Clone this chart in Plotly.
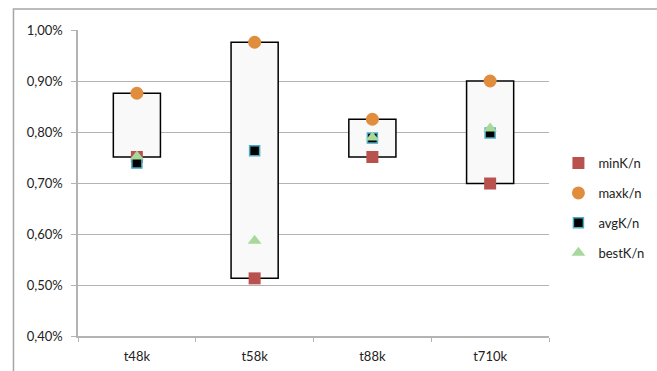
import plotly.graph_objects as go

# K/n ratios (in percent) per test set
categories = ["t48k", "t58k", "t88k", "t710k"]
min_kn = [0.751, 0.513, 0.751, 0.699]
max_kn = [0.876, 0.976, 0.825, 0.900]
avg_kn = [0.739, 0.763, 0.788, 0.798]
best_kn = [0.752, 0.587, 0.789, 0.807]
y_ticks = [0.40, 0.50, 0.60, 0.70, 0.80, 0.90, 1.00]
y_tick_text = [f"{v:.2f}%".replace(".", ",") for v in y_ticks]

font_family = "Lato, 'Open Sans', sans-serif"
text_color = "#222222"
grid_color = "#b3b3b3"

fig = go.Figure()

# min–max range boxes
fig.add_trace(go.Bar(
    x=categories,
    base=min_kn,
    y=[hi - lo for hi, lo in zip(max_kn, min_kn)],
    width=0.4,
    marker=dict(color="#f9f9f9", line=dict(color="#000000", width=1.5)),
    showlegend=False,
    hoverinfo="skip",
))

fig.add_trace(go.Scatter(
    x=categories, y=min_kn, mode="markers", name="minK/n",
    legendgroup="a",
    marker=dict(symbol="square", size=12, color="#b9514e",
                line=dict(color="#b9514e", width=0)),
))
fig.add_trace(go.Scatter(
    x=categories, y=max_kn, mode="markers", name="maxk/n",
    legendgroup="b",
    marker=dict(symbol="circle", size=13, color="#e08e3e",
                line=dict(color="#e08e3e", width=0)),
))
fig.add_trace(go.Scatter(
    x=categories, y=avg_kn, mode="markers", name="avgK/n",
    legendgroup="c",
    marker=dict(symbol="square", size=10, color="#000000",
                line=dict(color="#4bacc6", width=1.5)),
))
fig.add_trace(go.Scatter(
    x=categories, y=best_kn, mode="markers", name="bestK/n",
    legendgroup="d",
    marker=dict(symbol="triangle-up", size=12, color="#a8d99c",
                line=dict(color="#a8d99c", width=0)),
))

fig.update_layout(
    width=657, height=371,
    margin=dict(l=78, r=108, t=30, b=35, autoexpand=False),
    paper_bgcolor="white",
    plot_bgcolor="white",
    font=dict(family=font_family, size=13, color=text_color),
    showlegend=True,
    legend=dict(
        x=1.02, xanchor="left", y=0.418, yanchor="middle",
        font=dict(size=13, color=text_color),
        tracegroupgap=10,
        itemsizing="trace",
        bgcolor="rgba(0,0,0,0)",
    ),
    shapes=[
        dict(type="rect", xref="paper", yref="paper",
             x0=-0.137, x1=1.4, y0=-0.2, y1=1.069,
             line=dict(color="#a6a6a6", width=1.5),
             fillcolor="rgba(0,0,0,0)", layer="below"),
    ],
)

fig.update_xaxes(
    type="category",
    automargin=False,
    showline=True, linecolor=grid_color, linewidth=1.5,
    ticks="outside", tickson="boundaries", ticklen=4, tickcolor=grid_color,
    showgrid=False,
    ticklabelstandoff=8,
    tickfont=dict(size=13, color=text_color),
)
fig.update_yaxes(
    range=[0.40, 1.00],
    automargin=False,
    tickvals=y_ticks,
    ticktext=y_tick_text,
    showline=True, linecolor=grid_color, linewidth=1.5,
    ticks="outside", ticklen=5, tickcolor=grid_color,
    showgrid=True, gridcolor=grid_color, gridwidth=1.2,
    zeroline=False,
    ticklabelstandoff=6,
    tickfont=dict(size=13, color=text_color),
)

fig.write_html("out.html")
